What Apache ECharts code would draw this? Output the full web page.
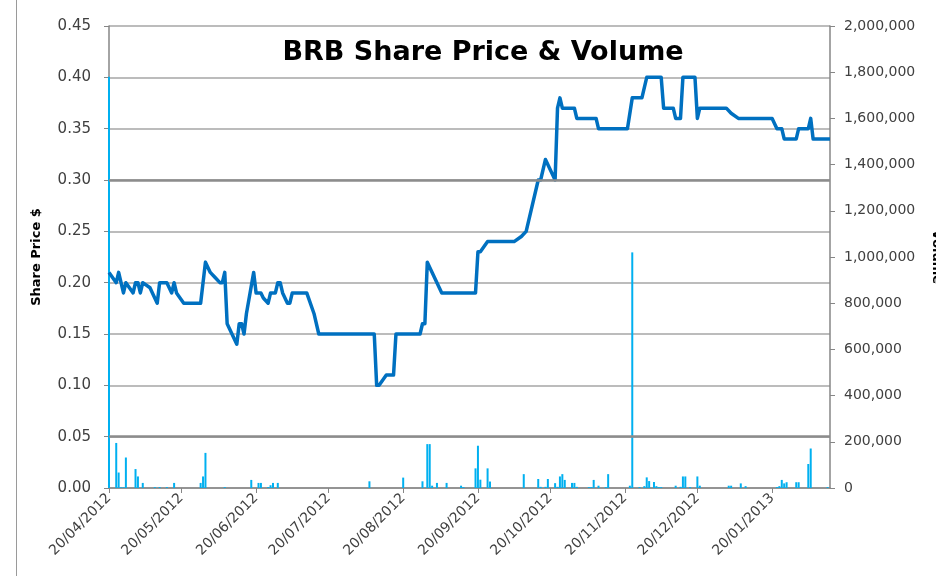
<!DOCTYPE html>
<html>
<head>
<meta charset="utf-8">
<title>BRB Share Price & Volume</title>
<script src="https://cdn.jsdelivr.net/npm/echarts@6/dist/echarts.min.js"></script>
<style>
html,body{margin:0;padding:0;background:#fff;}
#main{width:936px;height:576px;}
</style>
</head>
<body>
<div id="main"></div>
<script>
// day 0 = 20/04/2012, one category per calendar day
var startDate = [2012, 3, 20];
var dayCount = 300;

// share price, read at the points where the line turns (day index, $)
var priceDays = [0,3,4,6,7,10,11,12,13,14,17,18,20,21,24,26,27,28,31,38,40,42,44,46,47,48,49,53,54,55,56,57,60,61,63,64,66,67,69,70,71,72,74,75,76,82,85,87,110,111,112,115,118,119,129,130,131,132,134,136,138,152,153,154,157,168,171,173,178,179,181,183,185,186,187,188,193,194,202,203,215,217,221,223,229,230,234,235,237,238,243,244,245,256,258,261,275,277,279,280,285,286,290,291,292,299];
var priceValues = [0.21,0.20,0.21,0.19,0.20,0.19,0.20,0.20,0.19,0.20,0.195,0.19,0.18,0.20,0.20,0.19,0.20,0.19,0.18,0.18,0.22,0.21,0.205,0.20,0.20,0.21,0.16,0.14,0.16,0.16,0.15,0.17,0.21,0.19,0.19,0.185,0.18,0.19,0.19,0.20,0.20,0.19,0.18,0.18,0.19,0.19,0.17,0.15,0.15,0.10,0.10,0.11,0.11,0.15,0.15,0.16,0.16,0.22,0.21,0.20,0.19,0.19,0.23,0.23,0.24,0.24,0.245,0.25,0.30,0.30,0.32,0.31,0.30,0.37,0.38,0.37,0.37,0.36,0.36,0.35,0.35,0.38,0.38,0.40,0.40,0.37,0.37,0.36,0.36,0.40,0.40,0.36,0.37,0.37,0.365,0.36,0.36,0.35,0.35,0.34,0.34,0.35,0.35,0.36,0.34,0.34];

// traded volume (day index, shares)
var volumeDays = [0,3,4,5,6,7,11,12,14,19,21,24,27,38,39,40,48,59,62,63,66,67,68,70,108,122,130,132,133,134,136,140,146,147,152,153,154,157,158,172,178,179,181,182,185,186,187,188,189,192,193,194,199,200,201,203,206,207,216,217,220,222,223,224,226,227,228,229,235,237,238,239,241,244,245,257,258,262,264,277,278,279,280,281,285,286,290,291,298];
var volumeValues = [1780000,195000,67000,3000,3000,132000,82000,50000,22000,4000,4000,4000,22000,22000,50000,152000,4000,35000,22000,22000,4000,12000,22000,22000,29000,45000,29000,190000,190000,10000,22000,22000,10000,4000,85000,183000,36000,85000,28000,60000,39000,5000,5000,39000,21000,5000,50000,60000,35000,22000,22000,5000,4000,4000,35000,10000,4000,60000,10000,1020000,4000,8000,46000,30000,26000,8000,4000,4000,10000,5000,50000,50000,4000,50000,10000,10000,10000,20000,8000,4000,8000,35000,20000,25000,25000,25000,104000,171000,4000];

var heavyGridLevels = [0.30, 0.05];

function pad(n){ return n < 10 ? '0' + n : '' + n; }

var dates = [];
var priceData = [];
var volumeData = [];
for (var i = 0; i < dayCount; i++) {
	var d = new Date(startDate[0], startDate[1], startDate[2] + i);
	dates.push(pad(d.getDate()) + '/' + pad(d.getMonth() + 1) + '/' + d.getFullYear());
	priceData.push(null);
	volumeData.push(null);
}
for (var p = 0; p < priceDays.length; p++) priceData[priceDays[p]] = priceValues[p];
for (var v = 0; v < volumeDays.length; v++) volumeData[volumeDays[v]] = volumeValues[v];

function isTwentieth(index, value){ return value.substr(0, 3) === '20/'; }

var font = 'DejaVu Sans';
var dom = document.getElementById('main');
var myChart = echarts.init(dom);

var option = {
	animation: false,
	backgroundColor: '#fff',
	title: {
		text: 'BRB Share Price & Volume',
		left: 478,
		top: 34,
		textAlign: 'center',
		textStyle: { fontFamily: font, fontWeight: 'bold', fontSize: 27, color: '#000' }
	},
	graphic: [{
		type: 'line',
		shape: { x1: 16.5, y1: 0, x2: 16.5, y2: 576 },
		style: { stroke: '#9a9a9a', lineWidth: 1 }
	}],
	grid: { left: 109, right: 106, top: 26, bottom: 88, outerBoundsMode: 'none', containLabel: false },
	xAxis: {
		type: 'category',
		data: dates,
		boundaryGap: false,
		axisLine: { lineStyle: { color: '#868686', width: 1.5 } },
		axisTick: { interval: isTwentieth, length: 5, lineStyle: { color: '#868686' } },
		axisLabel: {
			interval: isTwentieth,
			rotate: 45,
			margin: 8,
			fontFamily: font,
			fontSize: 14,
			color: '#404040'
		},
		splitLine: { show: false }
	},
	yAxis: [{
		type: 'value',
		min: 0,
		max: 0.45,
		interval: 0.05,
		name: 'Share Price $',
		nameLocation: 'middle',
		nameGap: 66,
		nameTextStyle: { fontFamily: font, fontWeight: 'bold', fontSize: 13, color: '#000' },
		axisLine: { show: true, lineStyle: { color: '#868686', width: 1.5 } },
		axisTick: { show: true, length: 5, lineStyle: { color: '#868686' } },
		axisLabel: {
			margin: 18,
			fontFamily: font,
			fontSize: 15,
			color: '#404040',
			formatter: function (val) { return val.toFixed(2); }
		},
		splitLine: { lineStyle: { color: '#a6a6a6', width: 1.5 } }
	}, {
		type: 'value',
		min: 0,
		max: 2000000,
		interval: 200000,
		name: 'Volume',
		nameLocation: 'middle',
		nameRotate: -90,
		nameGap: 100,
		nameTextStyle: { fontFamily: font, fontWeight: 'bold', fontSize: 13, color: '#000' },
		axisLine: { show: true, lineStyle: { color: '#868686', width: 1.5 } },
		axisTick: { show: true, length: 5, lineStyle: { color: '#868686' } },
		axisLabel: {
			margin: 14,
			fontFamily: font,
			fontSize: 14,
			color: '#404040',
			formatter: function (val) { return val.toLocaleString('en-US'); }
		},
		splitLine: { show: false }
	}],
	series: [{
		name: 'Volume',
		type: 'bar',
		yAxisIndex: 1,
		data: volumeData,
		barWidth: 2,
		itemStyle: { color: '#00b0f0' }
	}, {
		name: 'Share Price',
		type: 'line',
		data: priceData,
		connectNulls: true,
		showSymbol: false,
		symbol: 'none',
		lineStyle: { color: '#0070c0', width: 3.5, join: 'round' },
		markLine: {
			silent: true,
			symbol: 'none',
			label: { show: false },
			lineStyle: { color: '#8c8c8c', width: 2.5, type: 'solid' },
			data: heavyGridLevels.map(function (lv) { return { yAxis: lv }; })
		},
		z: 3
	}]
};
myChart.setOption(option);
</script>
</body>
</html>
